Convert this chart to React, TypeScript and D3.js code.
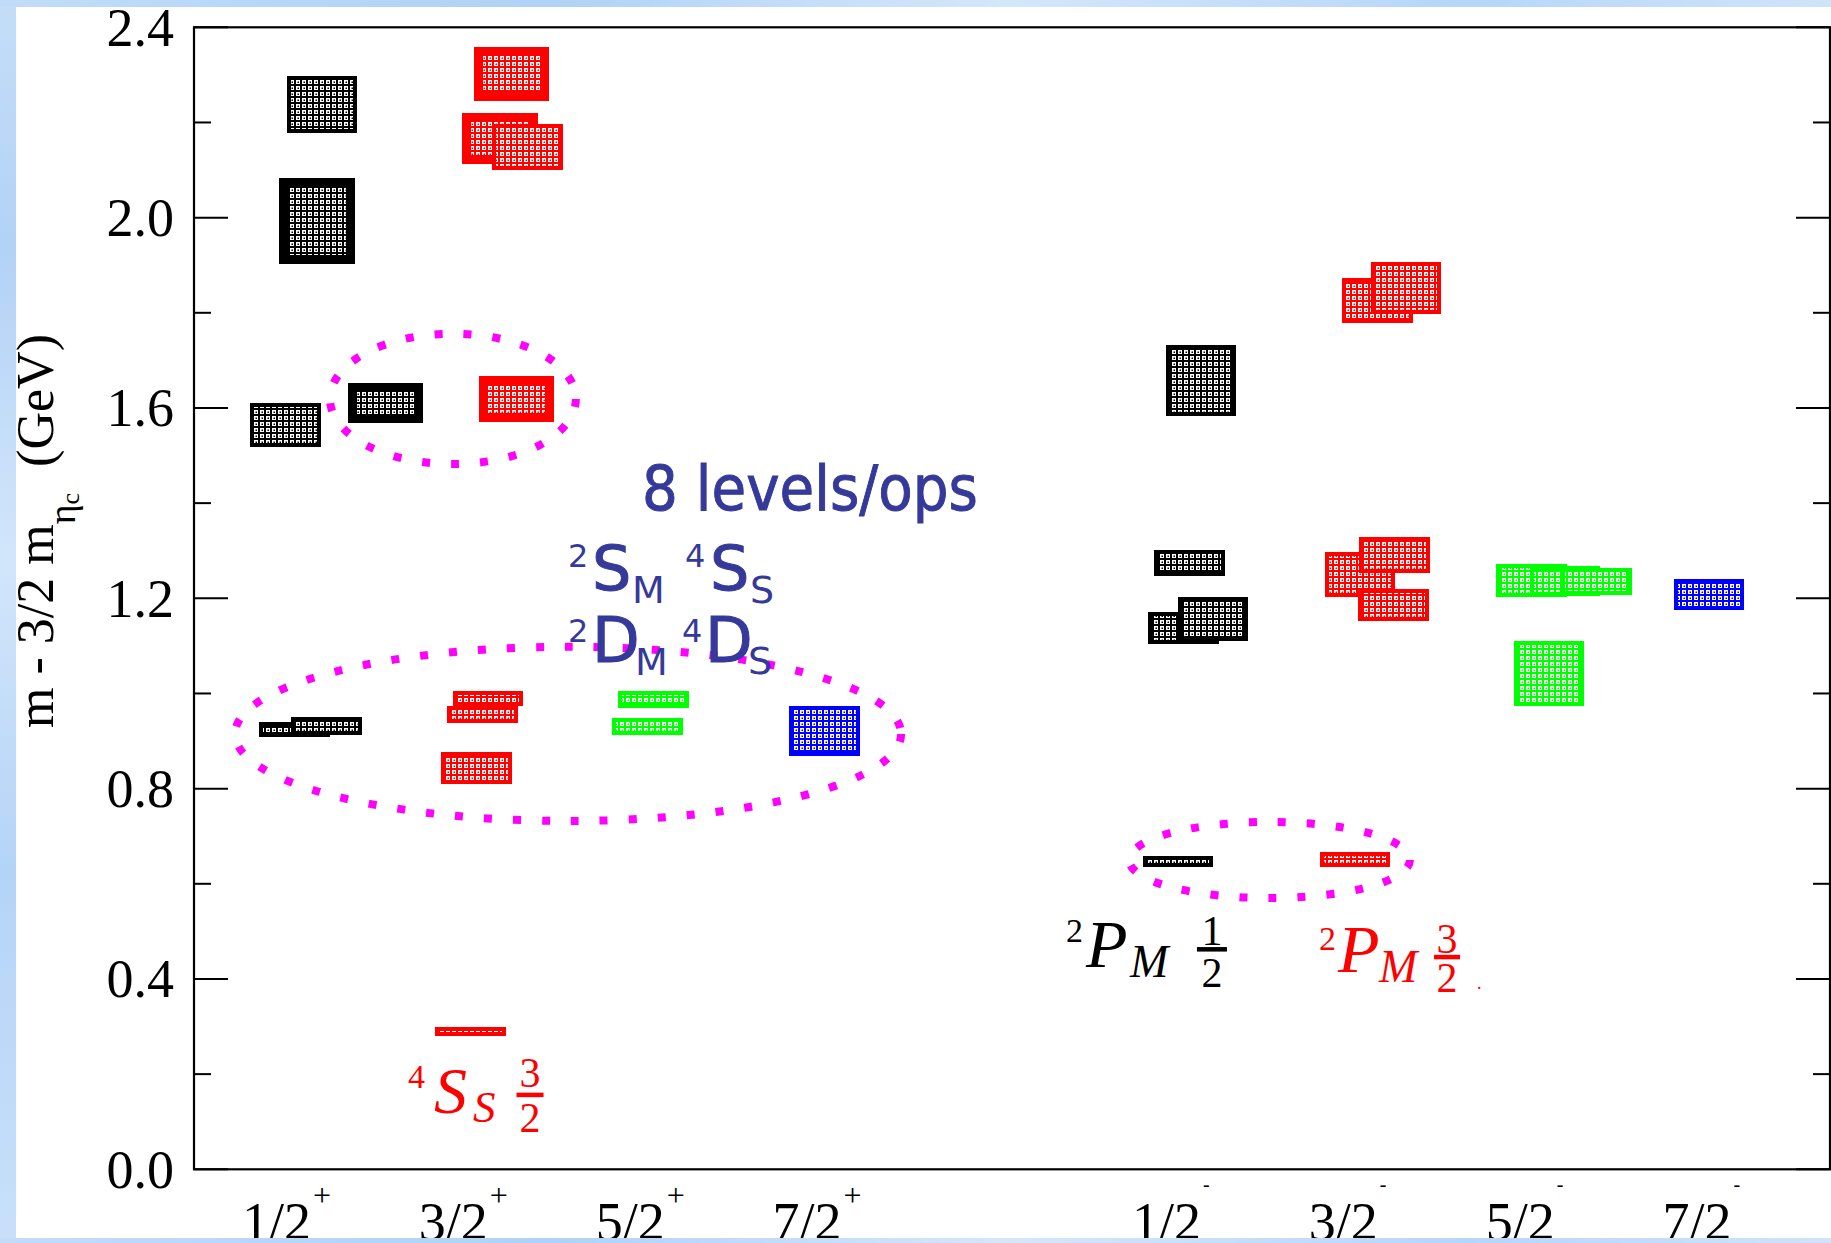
import React from 'react';
import * as d3 from 'd3';

const WIDTH = 1831;
const HEIGHT = 1243;

// J^P channels along the horizontal axis
const channelLabels = ['1/2', '3/2', '5/2', '7/2', '1/2', '3/2', '5/2', '7/2'];
const channelParity = ['+', '+', '+', '+', '-', '-', '-', '-'];
const channelPositions = [1, 2, 3, 4, 6, 7, 8, 9];

const yMajorTicks = [0, 0.4, 0.8, 1.2, 1.6, 2.0, 2.4];
const yMinorTicks = [0.2, 0.6, 1.0, 1.4, 1.8, 2.2];

// Extracted levels: x = placement along the J^P axis, m = m - 3/2 m_etac (GeV), err = half-height of the band
const blackLevels = [
  { x: 1.224, m: 2.238, err: 0.056 },
  { x: 1.195, m: 1.993, err: 0.081 },
  { x: 1.017, m: 1.564, err: 0.042 },
  { x: 1.583, m: 1.611, err: 0.033 },
  { x: 1.068, m: 0.924, err: 0.012 },
  { x: 1.249, m: 0.932, err: 0.015 },
  { x: 6.194, m: 1.658, err: 0.07 },
  { x: 6.129, m: 1.274, err: 0.023 },
  { x: 6.095, m: 1.138, err: 0.029 },
  { x: 6.261, m: 1.157, err: 0.042 },
  { x: 6.064, m: 0.647, err: 0.0074 },
];
const blackBold = [1, 3];

const redLevels = [
  { x: 2.295, m: 2.302, err: 0.047 },
  { x: 2.23, m: 2.167, err: 0.044 },
  { x: 2.386, m: 2.149, err: 0.044 },
  { x: 2.323, m: 1.619, err: 0.039 },
  { x: 2.162, m: 0.99, err: 0.012 },
  { x: 2.131, m: 0.956, err: 0.014 },
  { x: 2.097, m: 0.843, err: 0.029 },
  { x: 2.063, m: 0.29, err: 0.0053 },
  { x: 7.192, m: 1.826, err: 0.043 },
  { x: 7.353, m: 1.852, err: 0.05 },
  { x: 7.093, m: 1.25, err: 0.043 },
  { x: 7.288, m: 1.291, err: 0.034 },
  { x: 7.282, m: 1.186, err: 0.029 },
  { x: 7.064, m: 0.651, err: 0.012 },
];
const redBold = [0, 1, 3];

const greenLevels = [
  { x: 3.098, m: 0.987, err: 0.014 },
  { x: 3.064, m: 0.931, err: 0.014 },
  { x: 8.062, m: 1.237, err: 0.03 },
  { x: 8.252, m: 1.236, err: 0.027 },
  { x: 8.43, m: 1.236, err: 0.024 },
  { x: 8.161, m: 1.042, err: 0.064 },
];

const blueLevels = [
  { x: 4.065, m: 0.921, err: 0.048 },
  { x: 9.066, m: 1.208, err: 0.028 },
];

// Dotted rings grouping operator sets (centre and semi-axes in data units)
const rings = [
  { cx: 1.964, cy: 1.619, rx: 0.695, ry: 0.137 },
  { cx: 2.615, cy: 0.915, rx: 1.883, ry: 0.183 },
  { cx: 6.581, cy: 0.65, rx: 0.794, ry: 0.08 },
];

const BOX_W = 0.375;

const x = d3.scaleLinear().domain([0.5, 9.75]).range([194, 1830]);
const y = d3.scaleLinear().domain([0, 2.4]).range([1169.3, 27.3]);
const fmt = d3.format('.1f');

const serif = "'Liberation Serif', 'Times New Roman', serif";
const sans = "'DejaVu Sans', sans-serif";

const colors = { black: '#000000', red: '#ff0000', green: '#00ff00', blue: '#0000ff' };

function Hatch({ id, color }: { id: string; color: string }) {
  return (
    <pattern id={id} width={6} height={6} patternUnits="userSpaceOnUse">
      <rect width={6} height={6} fill="#ffffff" />
      <rect x={0} y={0} width={6} height={2} fill={color} />
      <rect x={0} y={0} width={2} height={6} fill={color} />
      <rect x={3.5} y={3.5} width={1.5} height={1.5} fill={color} />
    </pattern>
  );
}

function Levels({ data, bold, color, pat }: { data: { x: number; m: number; err: number }[]; bold: number[]; color: string; pat: string }) {
  const w = x(BOX_W) - x(0);
  return (
    <g>
      {data.map((d, i) => (
        <rect
          key={i}
          x={x(d.x) - w / 2}
          width={w}
          y={y(d.m + d.err)}
          height={y(d.m - d.err) - y(d.m + d.err)}
          fill={`url(#${pat})`}
          stroke={color}
          strokeWidth={bold.includes(i) ? 9 : 4}
          shapeRendering="crispEdges"
        />
      ))}
    </g>
  );
}

function Fraction({ cx, top, bar, den, num, denom, color, size, barW }: any) {
  return (
    <g fill={color} fontFamily={serif} fontSize={size}>
      <text x={cx} y={top} textAnchor="middle">{num}</text>
      <rect x={cx - barW / 2} y={bar} width={barW} height={4.5} />
      <text x={cx} y={den} textAnchor="middle">{denom}</text>
    </g>
  );
}

export default function App() {
  const L = x(0.5);
  const R = x(9.75);
  const T = y(2.4);
  const B = y(0);

  // anchors of the annotations
  const sx = x(1.71), sy = y(0.118);
  const p1x = x(5.43), p1y = y(0.425);
  const p2x = x(6.861), p2y = y(0.415);
  const tx = x(2.615);
  const line1 = y(1.218), line2 = y(1.066);
  const noteX = x(3.983), noteY = y(1.386);

  return (
    <svg width={WIDTH} height={HEIGHT} style={{ position: 'absolute', left: 0, top: 0 }}>
      <defs>
        <linearGradient id="bandV" x1="0" y1="0" x2="0" y2="1">
          <stop offset="0" stopColor="#c4def8" />
          <stop offset="0.2" stopColor="#b2d2f6" />
          <stop offset="0.45" stopColor="#d2e6fb" />
          <stop offset="0.7" stopColor="#b4d4f7" />
          <stop offset="1" stopColor="#c8e0fa" />
        </linearGradient>
        <linearGradient id="bandH" x1="0" y1="0" x2="1" y2="0">
          <stop offset="0" stopColor="#c0dcf8" />
          <stop offset="0.3" stopColor="#b0d2f6" />
          <stop offset="0.55" stopColor="#d4e7fb" />
          <stop offset="0.8" stopColor="#b6d6f8" />
          <stop offset="1" stopColor="#cfe4fa" />
        </linearGradient>
        <clipPath id="panel">
          <rect x={16} y={7} width={WIDTH - 16} height={1231} />
        </clipPath>
        <Hatch id="hatch-black" color={colors.black} />
        <Hatch id="hatch-red" color={colors.red} />
        <Hatch id="hatch-green" color={colors.green} />
        <Hatch id="hatch-blue" color={colors.blue} />
      </defs>

      <rect x={0} y={0} width={WIDTH} height={HEIGHT} fill="url(#bandV)" />
      <rect x={0} y={0} width={WIDTH} height={7} fill="url(#bandH)" />
      <rect x={0} y={1238} width={WIDTH} height={5} fill="url(#bandH)" />
      <rect x={16} y={7} width={WIDTH - 16} height={1231} fill="#ffffff" />

      <g clipPath="url(#panel)">
        {/* frame */}
        <rect x={L} y={T} width={R - L} height={B - T} fill="none" stroke="#000" strokeWidth={2.2} />

        {/* y ticks on both sides */}
        {yMajorTicks.map((t) => (
          <g key={`M${t}`} stroke="#000" strokeWidth={2}>
            <line x1={L} x2={L + 34} y1={y(t)} y2={y(t)} />
            <line x1={R - 34} x2={R} y1={y(t)} y2={y(t)} />
          </g>
        ))}
        {yMinorTicks.map((t) => (
          <g key={`m${t}`} stroke="#000" strokeWidth={2}>
            <line x1={L} x2={L + 17} y1={y(t)} y2={y(t)} />
            <line x1={R - 17} x2={R} y1={y(t)} y2={y(t)} />
          </g>
        ))}
        {yMajorTicks.map((t) => (
          <text key={`l${t}`} x={L - 20} y={y(t)} dy="0.34em" textAnchor="end" fontFamily={serif} fontSize={54}>
            {fmt(t)}
          </text>
        ))}

        {/* J^P labels */}
        {channelPositions.map((p, i) => (
          <text key={`c${i}`} x={x(p) + 4} y={1240} textAnchor="middle" fontFamily={serif} fontSize={54}>
            {channelLabels[i]}
            {channelParity[i] === '+' ? (
              <tspan dx={2} dy={-34} fontSize={32}>+</tspan>
            ) : (
              <tspan dx={2} dy={-49} fontSize={20}>-</tspan>
            )}
          </text>
        ))}

        {/* y-axis title */}
        <text transform="translate(53,531) rotate(-90)" textAnchor="middle" fontFamily={serif} fontSize={52}>
          m - 3/2 m
          <tspan dy={22} fontSize={38}>η</tspan>
          <tspan dy={4} fontSize={26}>c</tspan>
          <tspan dy={-26} fontSize={52}>{'\u00a0\u00a0(GeV)'}</tspan>
        </text>

        {/* levels */}
        <Levels data={blackLevels} bold={blackBold} color={colors.black} pat="hatch-black" />
        <Levels data={redLevels} bold={redBold} color={colors.red} pat="hatch-red" />
        <Levels data={greenLevels} bold={[]} color={colors.green} pat="hatch-green" />
        <Levels data={blueLevels} bold={[]} color={colors.blue} pat="hatch-blue" />

        {/* dotted rings */}
        {rings.map((r, i) => (
          <ellipse
            key={`r${i}`}
            cx={x(r.cx)}
            cy={y(r.cy)}
            rx={x(r.rx) - x(0)}
            ry={y(0) - y(r.ry)}
            fill="none"
            stroke="#ff00ff"
            strokeWidth={8}
            strokeDasharray="8 21"
          />
        ))}

        {/* operator content note */}
        <g fill="#35399a" fontFamily={sans}>
          <text x={noteX} y={noteY} textAnchor="middle" fontSize={62} textLength={336} lengthAdjust="spacingAndGlyphs" stroke="#35399a" strokeWidth={1}>
            8 levels/ops
          </text>
          <text x={tx} y={line1 - 23} fontSize={32}>2</text>
          <text x={tx + 24} y={line1} fontSize={62} stroke="#35399a" strokeWidth={1}>S</text>
          <text x={tx + 64} y={line1 + 13} fontSize={38}>M</text>
          <text x={tx + 117} y={line1 - 23} fontSize={32}>4</text>
          <text x={tx + 142} y={line1} fontSize={62} stroke="#35399a" strokeWidth={1}>S</text>
          <text x={tx + 182} y={line1 + 13} fontSize={38}>S</text>

          <text x={tx} y={line2 - 20} fontSize={32}>2</text>
          <text x={tx + 24} y={line2} fontSize={62} stroke="#35399a" strokeWidth={1}>D</text>
          <text x={tx + 67} y={line2 + 13} fontSize={38}>M</text>
          <text x={tx + 114} y={line2 - 20} fontSize={32}>4</text>
          <text x={tx + 137} y={line2} fontSize={62} stroke="#35399a" strokeWidth={1}>D</text>
          <text x={tx + 180} y={line2 + 12} fontSize={38}>S</text>
        </g>

        {/* 4S_S 3/2 */}
        <g fill={colors.red} fontFamily={serif}>
          <text x={sx} y={sy - 25} fontSize={34}>4</text>
          <text x={sx + 26} y={sy} fontSize={66} fontStyle="italic">S</text>
          <text x={sx + 65} y={sy + 9} fontSize={45} fontStyle="italic">S</text>
        </g>
        <Fraction cx={sx + 122} top={sy - 26} bar={sy - 20.5} den={sy + 19} num="3" denom="2" color={colors.red} size={42} barW={27} />

        {/* 2P_M 1/2 */}
        <g fill="#000" fontFamily={serif}>
          <text x={p1x} y={p1y - 25} fontSize={34}>2</text>
          <text x={p1x + 20} y={p1y} fontSize={68} fontStyle="italic">P</text>
          <text x={p1x + 64} y={p1y + 10} fontSize={46} fontStyle="italic">M</text>
        </g>
        <Fraction cx={p1x + 146} top={p1y - 22} bar={p1y - 20} den={p1y + 20} num="1" denom="2" color="#000" size={42} barW={30} />

        {/* 2P_M 3/2 */}
        <g fill={colors.red} fontFamily={serif}>
          <text x={p2x} y={p2y - 22} fontSize={34}>2</text>
          <text x={p2x + 19} y={p2y} fontSize={68} fontStyle="italic">P</text>
          <text x={p2x + 60} y={p2y + 10} fontSize={46} fontStyle="italic">M</text>
          <text x={p2x + 158} y={p2y + 17} fontSize={18}>.</text>
        </g>
        <Fraction cx={p2x + 128} top={p2y - 19} bar={p2y - 17} den={p2y + 20} num="3" denom="2" color={colors.red} size={42} barW={26} />
      </g>
    </svg>
  );
}
